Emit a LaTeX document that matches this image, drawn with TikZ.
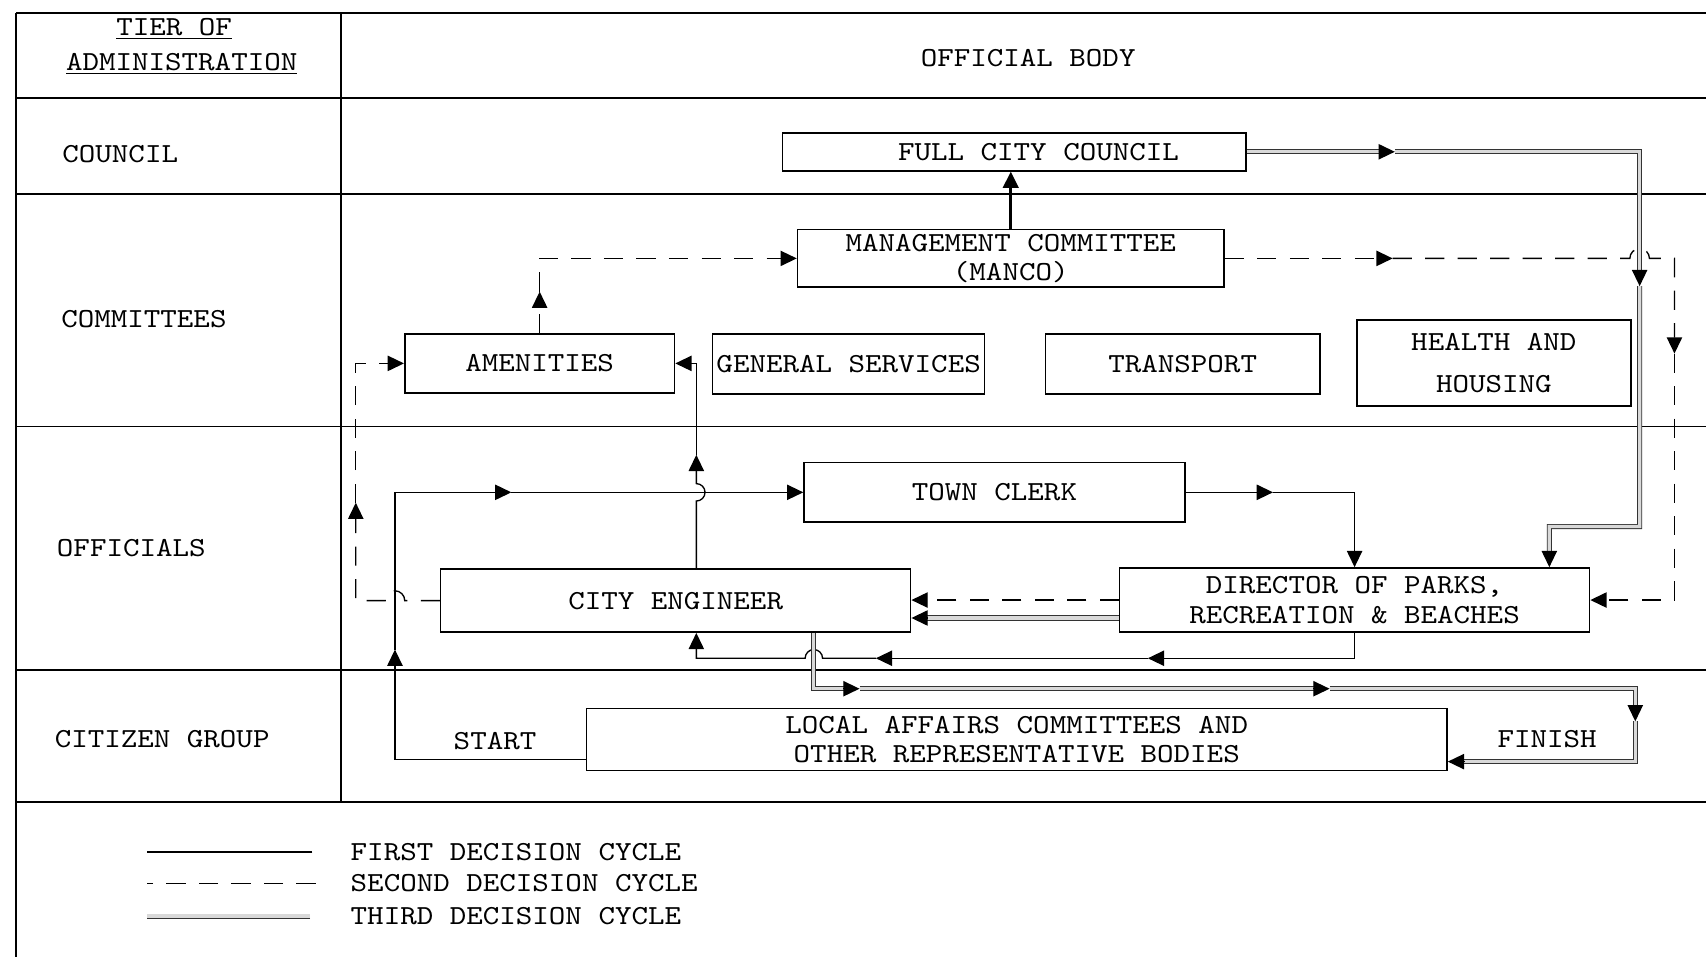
\documentclass[tikz,border=0pt]{standalone}
\usepackage{fontspec}
\setmainfont{lmmono10-regular}[Extension=.otf, FakeStretch=1.143]
\usetikzlibrary{arrows.meta}

\begin{document}
\begin{tikzpicture}[
    x=0.2mm, y=0.2mm,
    font=\fontsize{14.4pt}{15.2pt}\selectfont,
    grid/.style={line width=1pt},
    box/.style={draw, line width=0.8pt, inner xsep=1pt, inner ysep=0pt, align=center, fill=white},
    lbl/.style={inner sep=0pt},
    tri/.style={-{Triangle[length=8.5pt,width=8pt]}},
    first/.style={line width=0.7pt},
    second/.style={line width=0.7pt, dash pattern=on 10pt off 7pt},
    third/.style={line width=0.5pt, draw=black!80, double=gray!30, double distance=1.7pt},
    thirdtip/.style={line width=0.7pt, tri},
]
\useasboundingbox (0,0) rectangle (1568,-880);

% --- Table frame ---
\draw[grid] (15,-12) -- (1568,-12);
\draw[grid] (15,-12) -- (15,-880);
\draw[grid] (313,-12) -- (313,-737);
\foreach \y in {90,178,392,616,737} {
    \draw[grid] (15,-\y) -- (1568,-\y);
}

% Header and tier labels
\node (tier1) at (160,-27) {\underline{TIER OF}};
\node (tier2) at (167,-59) {\underline{ADMINISTRATION}};
\node (body) at (945,-53) {OFFICIAL BODY};
\node[lbl, anchor=west] (rcouncil) at (57,-142) {COUNCIL};
\node[lbl, anchor=west] (rcomm) at (56,-293) {COMMITTEES};
\node[lbl, anchor=west] (roff) at (52,-504) {OFFICIALS};
\node[lbl, anchor=west] (rcit) at (50,-679) {CITIZEN GROUP};

% --- Official bodies ---
\node[box, minimum width=85.2mm, minimum height=7mm] (council) at (932,-139.5) {\hspace*{9mm}FULL CITY COUNCIL};
\node[box, minimum width=78.4mm, minimum height=10.6mm] (manco) at (929,-237.5) {MANAGEMENT COMMITTEE\\(MANCO)};
\node[box, minimum width=49.6mm, minimum height=10.8mm] (amen) at (496,-334) {AMENITIES};
\node[box, minimum width=50mm, minimum height=11mm] (gserv) at (780,-334.5) {GENERAL SERVICES};
\node[box, minimum width=50.4mm, minimum height=11mm] (transp) at (1087,-334.5) {TRANSPORT};
\node[box, minimum width=50.4mm, minimum height=15.8mm] (health) at (1373,-333.5) {HEALTH AND\\[7pt]HOUSING};
\node[box, minimum width=70mm, minimum height=11mm] (town) at (914,-452.5) {TOWN CLERK};
\node[box, minimum width=86.4mm, minimum height=11.6mm] (engineer) at (621,-552) {CITY ENGINEER};
\node[box, minimum width=86.4mm, minimum height=11.8mm] (director) at (1245,-551.5) {DIRECTOR OF PARKS,\\RECREATION \& BEACHES};
\node[box, minimum width=158.2mm, minimum height=11.4mm] (local) at (934.5,-679.5) {LOCAL AFFAIRS COMMITTEES AND\\OTHER REPRESENTATIVE BODIES};
\node (start) at (455,-681) {START};
\node (finish) at (1422,-679) {FINISH};

% --- First decision cycle ---
\coordinate (f1) at (363,-597);
\coordinate (f2) at (470,-452.5);
\coordinate (f3) at (1170,-452.5);
\coordinate (f4) at (1055,-605);
\coordinate (f5) at (805,-605);
\coordinate (f6) at (640,-418);
\draw[first, tri] ([yshift=-3.7mm]local.west) -| (f1);
\draw[first, tri] (f1) |- (f2);
\draw[first, tri] (f2) -- (f2 -| town.west);
\draw[first, tri] (town.east) -- (f3);
\draw[first, tri] (f3) -| (director.north);
\draw[first, tri] (director.south) |- (f4);
\draw[first, tri] (f4) -- (f5);
\draw[first, tri] (f5) -- (756,-605) arc[start angle=0, end angle=180, radius=8] -- (640,-605) -- ([xshift=3.8mm]engineer.south);
\draw[first, tri] ([xshift=3.8mm]engineer.north) -- (640,-460.5) arc[start angle=-90, end angle=90, radius=8] -- (f6);
\draw[first, tri] (f6) |- (amen.east);
\draw[first, line width=1.6pt, tri] (manco.north) -- (manco.north |- council.south);

% --- Second decision cycle ---
\coordinate (s1) at (327,-462);
\coordinate (s2) at (496,-268);
\coordinate (s3) at (1280,-237.5);
\coordinate (s4) at (1539,-325);
\draw[second, tri] (engineer.west) -- (372,-552) arc[start angle=0, end angle=180, radius=9] -- (327,-552) -- (s1);
\draw[second, tri] (s1) |- (amen.west);
\draw[second, tri] (amen.north) -- (s2);
\draw[second, tri] (s2) |- (manco.west);
\draw[second, tri] (manco.east) -- (s3);
\draw[second, tri] (s3) -- (1498,-237.5) arc[start angle=180, end angle=0, radius=9] -- (s4 |- s3) -- (s4);
\draw[second, tri] (s4) |- (director.east);
\draw[second, tri] (director.west) -- (director.west -| engineer.east);

% --- Third decision cycle ---
\coordinate (t1) at (1282,-139.5);
\coordinate (t2) at (1507,-263);
\coordinate (t3) at (1424,-484);
\coordinate (t4) at (790,-633);
\coordinate (t5) at (1222,-633);
\coordinate (t6) at (1503,-663);
\draw[third, shorten >=5pt] (council.east) -- (t1);
\draw[third, shorten >=5pt] (t1) -| (t2);
\draw[third, shorten >=5pt] (t2) |- (t3) -- ([xshift=35.8mm]director.north);
\draw[third, shorten >=5pt] ([yshift=-3.3mm]director.west) -- ([yshift=-3.3mm]director.west -| engineer.east);
\draw[third, shorten >=5pt] ([xshift=25.4mm]engineer.south) |- (t4);
\draw[third, shorten >=5pt] (t4) -- (t5);
\draw[third, shorten >=5pt] (t5) -| (t6);
\draw[third, shorten >=5pt] (t6) |- ([yshift=-4.1mm]local.east);
% heads on the double lines
\draw[thirdtip] ([xshift=-3mm]t1) -- (t1);
\draw[thirdtip] ([yshift=3mm]t2) -- (t2);
\draw[thirdtip] ([xshift=35.8mm, yshift=3mm]director.north) -- ([xshift=35.8mm]director.north);
\draw[thirdtip] ([xshift=3mm, yshift=-3.3mm]director.west -| engineer.east) -- ([yshift=-3.3mm]director.west -| engineer.east);
\draw[thirdtip] ([xshift=-3mm]t4) -- (t4);
\draw[thirdtip] ([xshift=-3mm]t5) -- (t5);
\draw[thirdtip] ([yshift=3mm]t6) -- (t6);
\draw[thirdtip] ([xshift=3mm, yshift=-4.1mm]local.east) -- ([yshift=-4.1mm]local.east);

% --- Legend ---
\node[lbl, anchor=west] (leg1) at (322,-783) {FIRST DECISION CYCLE};
\node[lbl, anchor=west] (leg2) at (322,-812) {SECOND DECISION CYCLE};
\node[lbl, anchor=west] (leg3) at (322,-842) {THIRD DECISION CYCLE};
\draw[first] ([xshift=-7mm]leg1.west) -- ++(-152,0);
\draw[second] ([xshift=-6.4mm]leg2.west) -- ++(-155,0);
\draw[third] ([xshift=-7.4mm]leg3.west) -- ++(-150,0);

\end{tikzpicture}
\end{document}
